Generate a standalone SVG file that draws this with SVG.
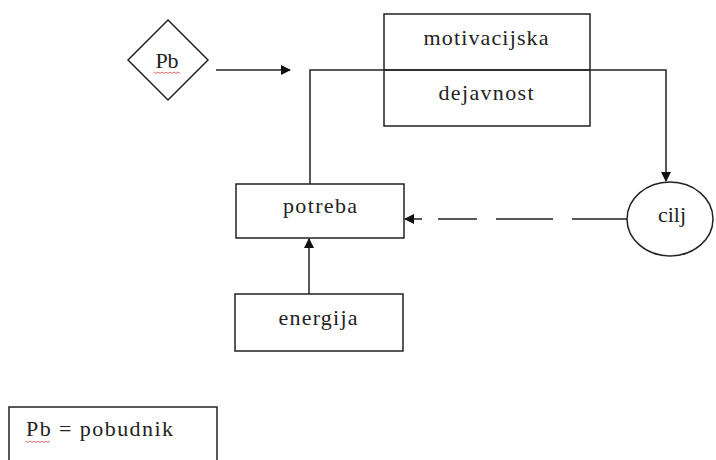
<svg xmlns="http://www.w3.org/2000/svg" width="716" height="460" viewBox="0 0 716 460">
<defs>
<style>
.box{fill:#fff;stroke:#222;stroke-width:1.5}
.ln{fill:none;stroke:#222;stroke-width:1.5}
.t{font-family:"Liberation Serif","DejaVu Serif",serif;font-size:22px;fill:#222;text-anchor:middle}
.sq{fill:none;stroke:#d04040;stroke-width:0.8}
</style>
<marker id="ah" markerWidth="10" markerHeight="10" refX="9" refY="5" orient="auto" markerUnits="userSpaceOnUse">
<path d="M0,0 L10,5 L0,10 Z" fill="#111"/>
</marker>
</defs>
<rect width="716" height="460" fill="#fff"/>
<g id="connectors">
<path class="ln" d="M216,70 L290,70" marker-end="url(#ah)"/>
<path class="ln" d="M310,184 L310,70 L666,70 L666,181" marker-end="url(#ah)"/>
<path class="ln" d="M309,294 L309,239" marker-end="url(#ah)"/>
<path class="ln" d="M627,219 L572,219 M553,219 L496,219 M477,219 L438,219"/>
<path class="ln" d="M422,219 L405,219" marker-end="url(#ah)"/>
</g>
<g id="pb">
<polygon class="box" points="168,20 208,60 168,100 128,60"/>
<text class="t" x="167" y="68">Pb</text>
<path class="sq" d="M154,72 l2,1.5 l2,-1.5 l2,1.5 l2,-1.5 l2,1.5 l2,-1.5 l2,1.5 l2,-1.5 l2,1.5 l2,-1.5 l2,1.5 l2,-1.5 l2,1.5"/>
</g>
<g id="motivacijska">
<rect class="box" x="384" y="14" width="206" height="112" fill-opacity="0"/>
<path class="ln" d="M384,70 L590,70"/>
<text class="t" x="486" y="45" textLength="125" lengthAdjust="spacing">motivacijska</text>
<text class="t" x="486" y="100" textLength="95" lengthAdjust="spacing">dejavnost</text>
</g>
<g id="potreba">
<rect class="box" x="236" y="184" width="168" height="54"/>
<text class="t" x="320" y="213" textLength="74" lengthAdjust="spacing">potreba</text>
</g>
<g id="energija">
<rect class="box" x="235" y="294" width="168" height="57"/>
<text class="t" x="318" y="325" textLength="79" lengthAdjust="spacing">energija</text>
</g>
<g id="cilj">
<ellipse class="box" cx="670" cy="219" rx="43" ry="37"/>
<text class="t" x="672" y="222">cilj</text>
</g>
<g id="legend">
<rect class="box" x="9" y="407" width="208" height="60"/>
<text class="t" x="26" y="436" style="text-anchor:start" textLength="147" lengthAdjust="spacing">Pb = pobudnik</text>
<path class="sq" d="M26,441 l2,1.5 l2,-1.5 l2,1.5 l2,-1.5 l2,1.5 l2,-1.5 l2,1.5 l2,-1.5 l2,1.5 l2,-1.5 l2,1.5 l2,-1.5"/>
</g>
</svg>
